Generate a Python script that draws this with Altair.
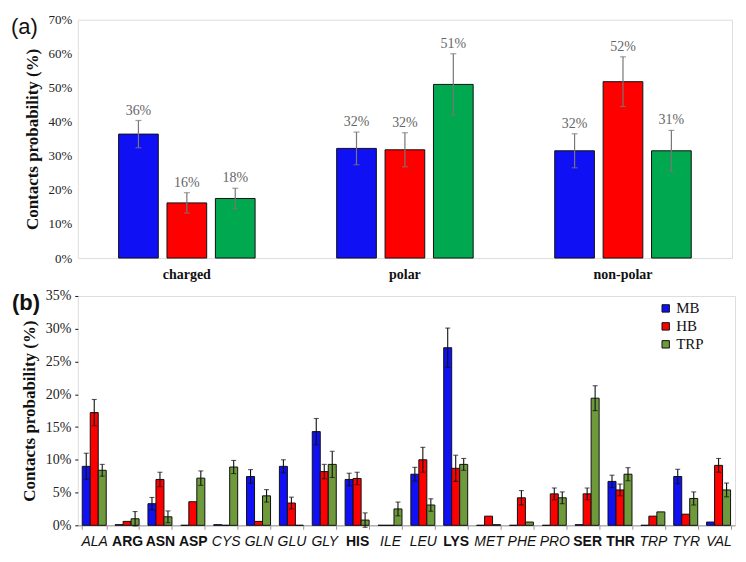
import altair as alt
import pandas as pd

# ---------------- data: panel (a) ----------------
top_groups = ["charged", "polar", "non-polar"]
series = ["MB", "HB", "TRP"]
top_mb = [36.4, 32.2, 31.5]
top_hb = [16.2, 31.8, 51.8]
top_trp = [17.5, 51.0, 31.5]
top_mb_err = [4.0, 4.8, 5.0]
top_hb_err = [3.0, 5.0, 7.3]
top_trp_err = [3.0, 9.0, 6.0]
top_mb_lab = ["36%", "32%", "32%"]
top_hb_lab = ["16%", "32%", "52%"]
top_trp_lab = ["18%", "51%", "31%"]

# ---------------- data: panel (b) ----------------
residues = ["ALA", "ARG", "ASN", "ASP", "CYS", "GLN", "GLU", "GLY", "HIS", "ILE",
            "LEU", "LYS", "MET", "PHE", "PRO", "SER", "THR", "TRP", "TYR", "VAL"]
bold_residues = ["ARG", "ASN", "ASP", "HIS", "LYS", "SER", "THR"]
mb = [9.0, 0.1, 3.3, 0.0, 0.1, 7.45, 9.0, 14.3, 7.0, 0.0,
      7.8, 27.1, 0.0, 0.0, 0.0, 0.1, 6.7, 0.0, 7.45, 0.5]
mb_err = [2.0, 0, 0.95, 0, 0, 1.05, 1.0, 2.0, 0.95, 0,
          1.05, 3.0, 0, 0, 0, 0, 0.95, 0, 1.1, 0]
hb = [17.2, 0.6, 7.0, 3.6, 0.0, 0.6, 3.4, 8.2, 7.15, 0.0,
      10.0, 8.7, 1.4, 4.2, 4.8, 4.8, 5.4, 1.4, 1.7, 9.15]
hb_err = [2.0, 0, 1.1, 0, 0, 0, 0.9, 1.1, 0.95, 0,
          1.9, 2.0, 0, 1.1, 0.9, 0.9, 0.9, 0, 0, 1.05]
trp = [8.4, 1.0, 1.3, 7.2, 8.9, 4.5, 0.0, 9.3, 0.8, 2.5,
       3.1, 9.3, 0.1, 0.5, 4.2, 19.4, 7.8, 2.05, 4.1, 5.4]
trp_err = [0.9, 1.1, 0.9, 1.1, 1.0, 0.95, 0, 2.0, 1.1, 1.05,
           0.95, 0.9, 0, 0, 0.9, 1.9, 1.0, 0, 1.0, 1.05]

top_colors = ["#1010F5", "#FF0000", "#00A84F"]
bot_colors = ["#1010F5", "#FF0000", "#6E9A3C"]

SERIF = "Liberation Serif"
SANS = "Liberation Sans"

# ---------------- build tables ----------------
rows = []
for s, vals, errs, labs in zip(series, [top_mb, top_hb, top_trp],
                               [top_mb_err, top_hb_err, top_trp_err],
                               [top_mb_lab, top_hb_lab, top_trp_lab]):
    for g, v, e, l in zip(top_groups, vals, errs, labs):
        rows.append({"group": g, "series": s, "value": v, "lo": v - e, "hi": v + e, "label": l})
top_df = pd.DataFrame(rows)

rows = []
for s, vals, errs in zip(series, [mb, hb, trp], [mb_err, hb_err, trp_err]):
    for r, v, e in zip(residues, vals, errs):
        rows.append({"res": r, "Series": s, "val": v, "err": e, "lo": v - e, "hi": v + e})
bot_df = pd.DataFrame(rows)
bot_err_df = bot_df[bot_df["err"] > 0]

# ---------------- panel (a) ----------------
xa = alt.X("group:N", sort=top_groups,
           scale=alt.Scale(paddingInner=0.374, paddingOuter=0.187),
           axis=alt.Axis(title=None, labelAngle=0, ticks=False, domain=False,
                         labelFont=SERIF, labelFontWeight="bold", labelFontSize=14,
                         labelColor="#111", labelPadding=9))
xoa = alt.XOffset("series:N", sort=series, scale=alt.Scale(paddingInner=0.18, paddingOuter=0))
ya_scale = alt.Scale(domain=[0, 70], nice=False)
ya_axis = alt.Axis(title="Contacts probability (%)", values=[0, 10, 20, 30, 40, 50, 60, 70],
                   labelExpr="datum.value + '%'", grid=False, ticks=False, domain=False,
                   labelOverlap=False, labelFlush=False,
                   labelFont=SERIF, labelFontSize=13, labelColor="#222", labelPadding=6,
                   titleFont=SERIF, titleFontWeight="bold", titleFontSize=17,
                   titleColor="#111", titlePadding=7)


def ya(field):
    return alt.Y(field, scale=ya_scale, axis=ya_axis)


base_a = alt.Chart(top_df)
bars_a = base_a.mark_bar(stroke="#111", strokeWidth=1).encode(
    x=xa, xOffset=xoa, y=ya("value:Q"),
    color=alt.Color("series:N", sort=series,
                    scale=alt.Scale(domain=series, range=top_colors), legend=None),
)
err_a = base_a.mark_rule(color="#777", strokeWidth=1.2).encode(
    x=xa, xOffset=xoa, y=ya("lo:Q"), y2="hi:Q")
caphi_a = base_a.mark_tick(color="#777", size=6, thickness=1.2).encode(
    x=xa, xOffset=xoa, y=ya("hi:Q"))
caplo_a = base_a.mark_tick(color="#777", size=6, thickness=1.2).encode(
    x=xa, xOffset=xoa, y=ya("lo:Q"))
lab_a = base_a.mark_text(font=SERIF, fontSize=14, color="#666", baseline="bottom", dy=-3).encode(
    x=xa, xOffset=xoa, y=ya("hi:Q"), text="label:N")
tag_a = alt.Chart(pd.DataFrame({"t": ["(a)"]})).mark_text(
    font=SANS, fontSize=22, align="left", baseline="top", color="#111").encode(
    x=alt.value(-67), y=alt.value(-3), text="t:N")

panel_a = alt.layer(bars_a, err_a, caphi_a, caplo_a, lab_a, tag_a).properties(width=656, height=239)

# ---------------- panel (b) ----------------
bold_list = ",".join("'%s'" % r for r in bold_residues)
test_expr = "indexof([%s], datum.value) >= 0" % bold_list
xb = alt.X("res:N", sort=residues,
           scale=alt.Scale(paddingInner=0.27, paddingOuter=0.135),
           axis=alt.Axis(title=None, labelAngle=0, tickBand="extent", ticks=True,
                         tickColor="#999", tickSize=4, domainColor="#999",
                         labelOverlap=False,
                         labelFont=SANS, labelFontSize=14, labelColor="#111", labelPadding=5,
                         labelFontWeight={"condition": {"test": test_expr, "value": "bold"}, "value": "normal"},
                         labelFontStyle={"condition": {"test": test_expr, "value": "normal"}, "value": "italic"}))
xob = alt.XOffset("Series:N", sort=series, scale=alt.Scale(paddingInner=0, paddingOuter=0))
yb_scale = alt.Scale(domain=[0, 35], nice=False)
yb_axis = alt.Axis(title="Contacts probability (%)", values=[0, 5, 10, 15, 20, 25, 30, 35],
                   labelExpr="datum.value + '%'", grid=False, ticks=True, tickSize=3,
                   tickColor="#111", domain=False, labelOverlap=False, labelFlush=False,
                   labelFont=SERIF, labelFontSize=14, labelColor="#222", labelPadding=4,
                   titleFont=SERIF, titleFontWeight="bold", titleFontSize=17,
                   titleColor="#111", titlePadding=7)


def yb(field):
    return alt.Y(field, scale=yb_scale, axis=yb_axis)


bars_b = alt.Chart(bot_df).mark_bar(stroke="#111", strokeWidth=1).encode(
    x=xb, xOffset=xob, y=yb("val:Q"),
    color=alt.Color("Series:N", sort=series,
                    scale=alt.Scale(domain=series, range=bot_colors),
                    legend=alt.Legend(title=None, orient="none", legendX=582, legendY=5,
                                      symbolType="square", symbolSize=55,
                                      symbolStrokeColor="#111", symbolStrokeWidth=1,
                                      labelFont=SERIF, labelFontSize=15, labelColor="#111",
                                      labelOffset=3, rowPadding=2, padding=0)),
)
err_b = alt.Chart(bot_err_df).mark_rule(color="#111", strokeWidth=1.1).encode(
    x=xb, xOffset=xob, y=yb("lo:Q"), y2="hi:Q")
caphi_b = alt.Chart(bot_err_df).mark_tick(color="#111", size=5, thickness=1.1).encode(
    x=xb, xOffset=xob, y=yb("hi:Q"))
caplo_b = alt.Chart(bot_err_df).mark_tick(color="#111", size=5, thickness=1.1).encode(
    x=xb, xOffset=xob, y=yb("lo:Q"))
tag_b = alt.Chart(pd.DataFrame({"t": ["(b)"]})).mark_text(
    font=SANS, fontSize=22, fontWeight="bold", align="left", baseline="top", color="#111").encode(
    x=alt.value(-66), y=alt.value(-3), text="t:N")

panel_b = alt.layer(bars_b, err_b, caphi_b, caplo_b, tag_b).properties(width=659, height=230)

chart = alt.vconcat(panel_a, panel_b, spacing=6).resolve_scale(
    color="independent", x="independent", y="independent", xOffset="independent"
).properties(
    padding={"left": 2, "top": 4, "right": 2, "bottom": 2}
).configure_view(stroke="#222", strokeWidth=1.2).configure(background="white")

chart.save("out.html", embed_options={"renderer": "svg", "actions": False})
